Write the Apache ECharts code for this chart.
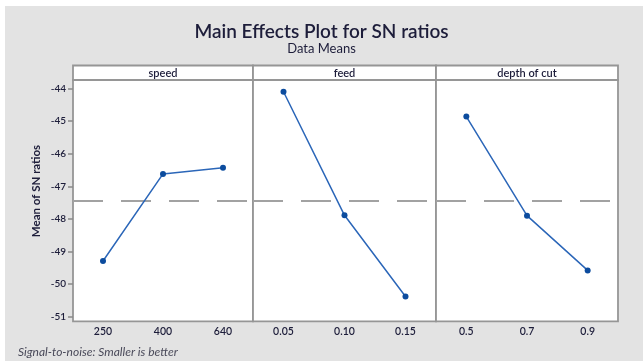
<!DOCTYPE html>
<html><head><meta charset="utf-8">
<script src="https://cdn.jsdelivr.net/npm/echarts@6/dist/echarts.min.js"></script>
<style>html,body{margin:0;padding:0;background:#fff}#c{width:643px;height:361px}</style>
</head><body><div id="c"></div>
<script>
// ---- data ----
const panelNames = ['speed', 'feed', 'depth of cut'];
const speedLevels = ['250', '400', '640'];
const feedLevels = ['0.05', '0.10', '0.15'];
const depthLevels = ['0.5', '0.7', '0.9'];
const speedSN = [-49.29, -46.62, -46.43];
const feedSN = [-44.10, -47.89, -50.38];
const depthSN = [-44.86, -47.90, -49.58];
const overallMean = -47.45;
const yMin = -51, yMax = -44, yStep = 1;
const titleText = 'Main Effects Plot for SN ratios';
const subtitleText = 'Data Means';
const yAxisTitle = 'Mean of SN ratios';
const footnote = 'Signal-to-noise: Smaller is better';

// ---- layout ----
const levels = [speedLevels, feedLevels, depthLevels];
const values = [speedSN, feedSN, depthSN];
const lefts = [73, 253, 436];
const widths = [180, 183, 182];
const gridTop = 88.5, gridBottomY = 316.7;
const frameTop = 80, frameBottom = 321.3, headTop = 65.5;
const textColor = '#1d1d3a';
const font = 'Lato, "Open Sans", sans-serif';

const grids = [], xAxes = [], yAxes = [], series = [], graphics = [];
graphics.push({type: 'rect', z: -10, shape: {x: 5, y: 6, width: 640, height: 360}, style: {fill: '#e3e3e3'}});

for (let i = 0; i < 3; i++) {
  grids.push({left: lefts[i], width: widths[i], top: gridTop, height: gridBottomY - gridTop});
  xAxes.push({
    type: 'category', gridIndex: i, data: levels[i], boundaryGap: true,
    axisLine: {show: false}, axisTick: {show: false}, splitLine: {show: false},
    axisLabel: {fontFamily: font, fontSize: 10.5, fontWeight: 600, color: textColor, margin: 9}
  });
  yAxes.push({
    type: 'value', gridIndex: i, min: yMin, max: yMax, interval: yStep,
    show: i === 0,
    axisLine: {show: false},
    axisTick: {show: true, inside: false, length: 5, lineStyle: {color: '#8a8a8a', width: 1.5}},
    axisLabel: {fontFamily: font, fontSize: 10, fontWeight: 600, color: textColor, margin: 7},
    splitLine: {show: false}
  });
  series.push({
    type: 'line', xAxisIndex: i, yAxisIndex: i, data: values[i],
    symbol: 'circle', symbolSize: 6,
    lineStyle: {color: '#2b66b8', width: 1.5},
    itemStyle: {color: '#0c4c9e'},
    z: 5,
    markLine: {
      silent: true, symbol: 'none', label: {show: false},
      lineStyle: {type: [30, 18], color: '#a2a2a2', width: 2.2},
      data: [{yAxis: overallMean}]
    }
  });
  // panel frame and header strip
  graphics.push({type: 'rect', z: -5, shape: {x: lefts[i], y: frameTop, width: widths[i], height: frameBottom - frameTop},
    style: {fill: '#fff', stroke: '#969696', lineWidth: 1.8}});
  graphics.push({type: 'rect', z: -5, shape: {x: lefts[i], y: headTop, width: widths[i], height: frameTop - headTop},
    style: {fill: '#fff', stroke: '#969696', lineWidth: 1.8}});
  graphics.push({type: 'text', z: 1, x: lefts[i] + widths[i] / 2, y: (headTop + frameTop) / 2 + 0.5,
    style: {text: panelNames[i], fill: textColor, font: '600 11px ' + font, textAlign: 'center', textVerticalAlign: 'middle'}});
}
graphics.push({type: 'text', z: 1, x: 36, y: 191, rotation: Math.PI / 2,
  style: {text: yAxisTitle, fill: textColor, font: 'bold 11.5px ' + font, textAlign: 'center', textVerticalAlign: 'middle'}});
graphics.push({type: 'text', z: 1, x: 18, y: 352,
  style: {text: footnote, fill: '#4a4a5a', font: 'italic 12px ' + font, textAlign: 'left', textVerticalAlign: 'middle'}});

const chart = echarts.init(document.getElementById('c'), null, {renderer: 'canvas'});
chart.setOption({
  backgroundColor: 'transparent',
  animation: false,
  title: {
    text: titleText, subtext: subtitleText, left: 'center', top: 17, itemGap: 1,
    textStyle: {fontFamily: font, fontSize: 19, fontWeight: 600, color: textColor},
    subtextStyle: {fontFamily: font, fontSize: 13, color: textColor}
  },
  grid: grids, xAxis: xAxes, yAxis: yAxes, series: series, graphic: graphics
});
</script></body></html>
